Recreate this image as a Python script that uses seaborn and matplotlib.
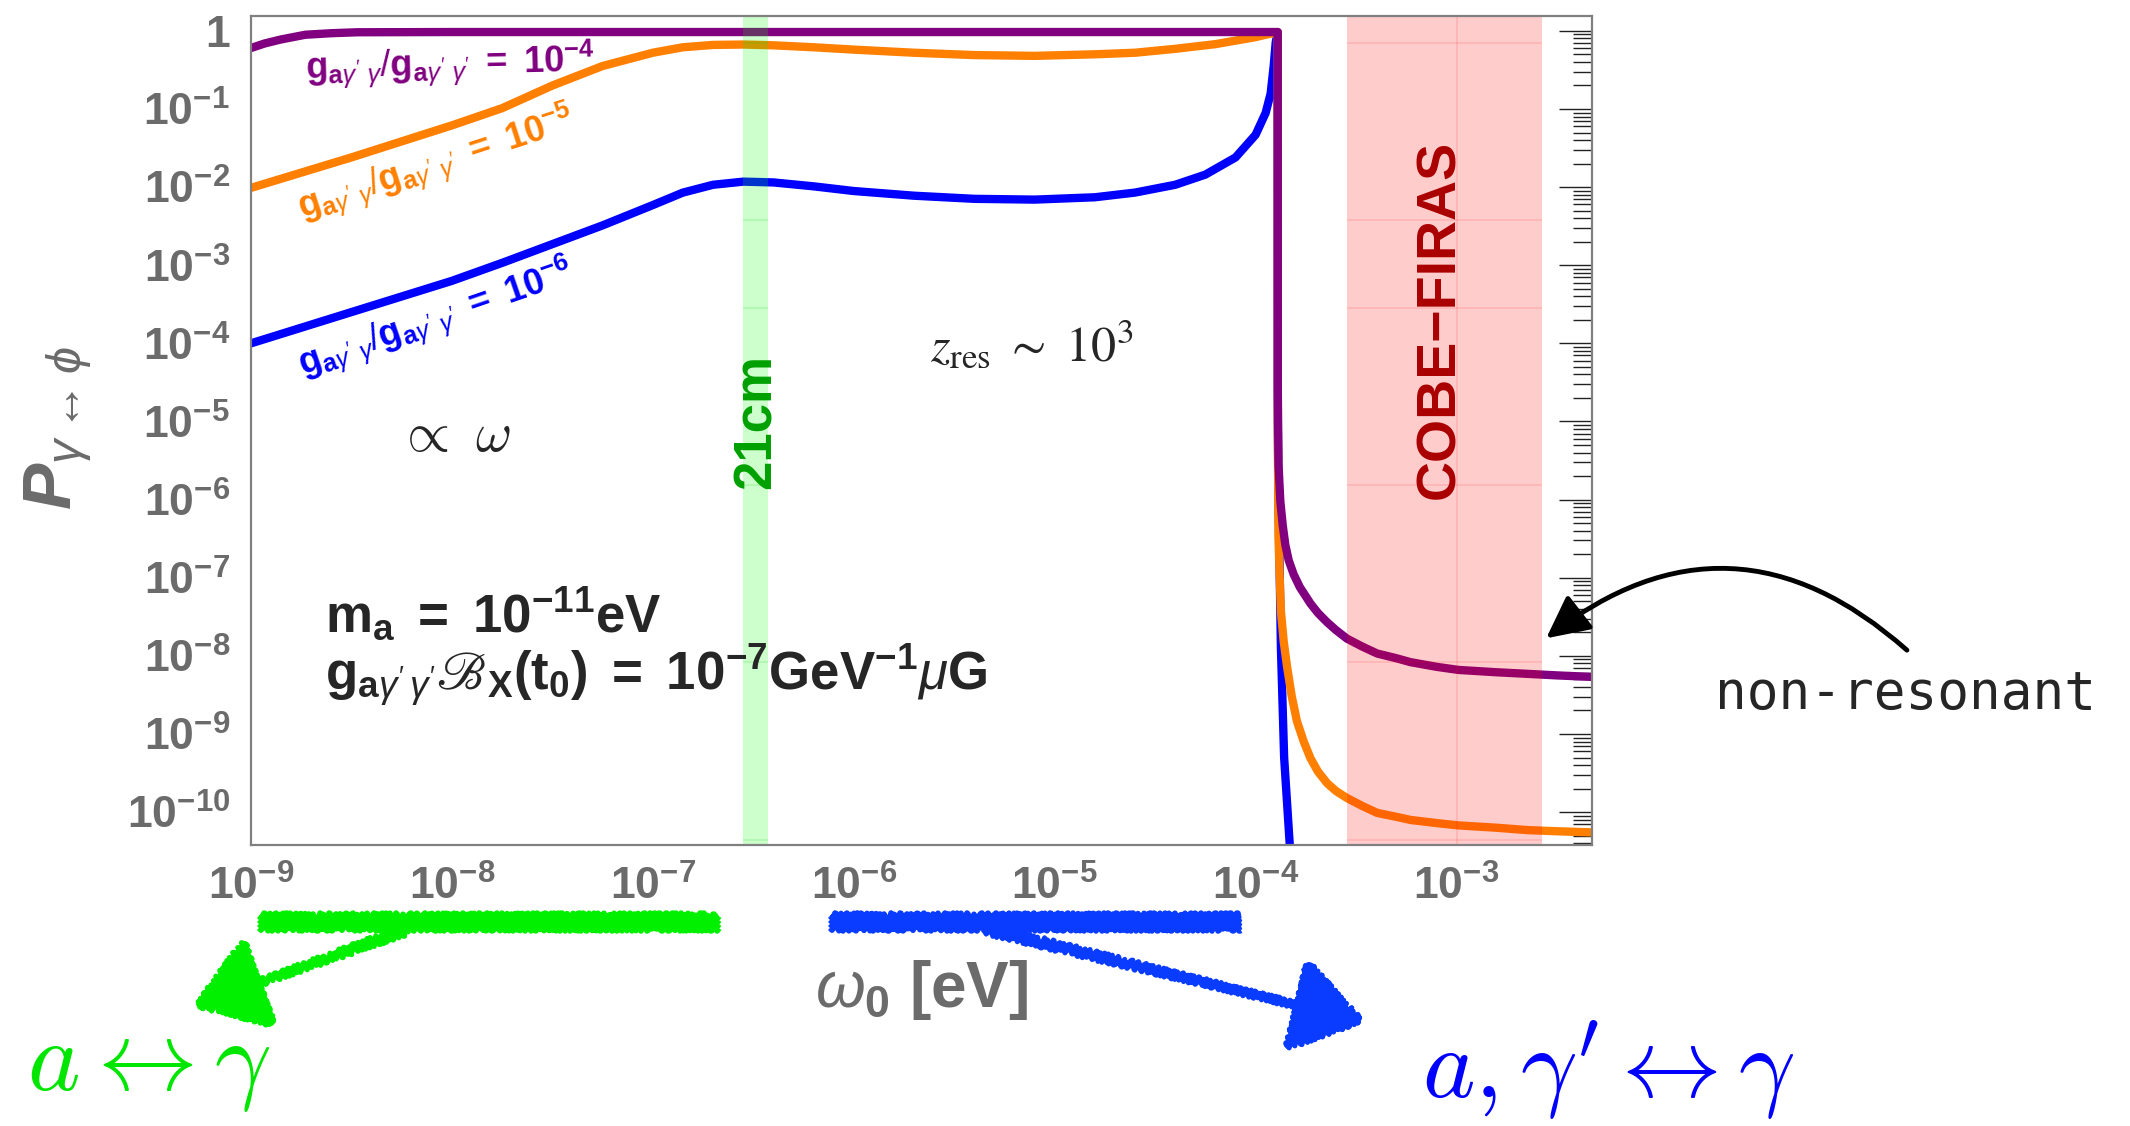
import numpy as np
import pandas as pd
import matplotlib
matplotlib.use("Agg")
import matplotlib.pyplot as plt
import matplotlib.ticker as mticker
from matplotlib.patches import FancyArrowPatch
from matplotlib.lines import Line2D
import seaborn as sns

# ---------- data, stored as log10 values
# x: log10(omega_0 / eV), y: log10(P)
ratios = ["1e-6", "1e-5", "1e-4"]
colors = ["#0000ff", "#ff7f00", "#800080"]

logw_1e4 = [-9.0, -8.93, -8.85, -8.73, -8.6, -8.47, -8.0, -6.0, -4.5, -3.890,
            -3.8895, -3.886, -3.877, -3.865, -3.852, -3.835, -3.81, -3.78, -3.727,
            -3.69, -3.644, -3.6, -3.545, -3.47, -3.395, -3.3, -3.23, -3.1, -2.99,
            -2.8, -2.648, -2.5, -2.32]
logP_1e4 = [-0.22, -0.16, -0.11, -0.05, -0.03, -0.018, -0.015, -0.015, -0.015, -0.015,
            -4.6, -5.55, -6.02, -6.33, -6.58, -6.78, -6.96, -7.12, -7.33,
            -7.45, -7.57, -7.67, -7.78, -7.88, -7.97, -8.03, -8.08, -8.14, -8.18,
            -8.21, -8.23, -8.25, -8.27]

logw_1e5 = [-9.0, -8.5, -8.0, -7.75, -7.5, -7.25, -7.0, -6.85, -6.7, -6.55, -6.4,
            -6.2, -6.0, -5.7, -5.4, -5.1, -4.8, -4.6, -4.4, -4.2, -4.0, -3.95, -3.890,
            -3.8895, -3.886, -3.88, -3.874, -3.86, -3.844, -3.82, -3.794, -3.76,
            -3.727, -3.69, -3.644, -3.6, -3.545, -3.47, -3.395, -3.3, -3.23, -3.1,
            -2.99, -2.8, -2.648, -2.5, -2.32]
logP_1e5 = [-2.01, -1.62, -1.21, -0.99, -0.70, -0.45, -0.28, -0.21, -0.18, -0.175, -0.185,
            -0.21, -0.24, -0.28, -0.31, -0.32, -0.30, -0.28, -0.23, -0.17, -0.08, -0.05, -0.015,
            -5.1, -6.49, -7.0, -7.43, -7.82, -8.13, -8.52, -8.84, -9.1,
            -9.31, -9.48, -9.63, -9.73, -9.82, -9.92, -10.01, -10.06, -10.10, -10.14,
            -10.17, -10.20, -10.23, -10.245, -10.26]

logw_1e6 = [-9.0, -8.5, -8.0, -7.75, -7.5, -7.25, -7.0, -6.85, -6.7, -6.55, -6.4,
            -6.2, -6.0, -5.7, -5.4, -5.1, -4.8, -4.6, -4.4, -4.25, -4.1, -4.0, -3.95,
            -3.925, -3.91, -3.9, -3.890, -3.8895, -3.886, -3.874, -3.858, -3.828]
logP_1e6 = [-4.00, -3.60, -3.20, -2.97, -2.73, -2.49, -2.23, -2.07, -1.97, -1.93, -1.94,
            -1.99, -2.05, -2.11, -2.15, -2.16, -2.13, -2.07, -1.97, -1.84, -1.62, -1.33, -1.05,
            -0.80, -0.45, -0.15, -0.015, -5.0, -6.0, -7.9, -9.3, -10.5]

band_21cm = (2.82e-7, 3.75e-7)
band_firas = (2.84e-4, 2.66e-3)
band_lines_exp = [-0.154, -2.42, -3.55, -5.81, -8.08, -10.36]

xtick_exp = [-9, -8, -7, -6, -5, -4, -3]
ytick_exp = [-10, -9, -8, -7, -6, -5, -4, -3, -2, -1, 0]

# ---------- style
sns.set_style("white")
plt.rcParams.update({
    "font.family": ["Liberation Sans", "DejaVu Sans"],
    "mathtext.fontset": "custom",
    "mathtext.rm": "Liberation Sans",
    "mathtext.it": "Liberation Sans:italic",
    "mathtext.bf": "Liberation Sans:bold",
    "mathtext.bfit": "Liberation Sans:italic:bold",
    "mathtext.sf": "Liberation Sans",
    "mathtext.fallback": "stix",
})

W, H = 2130, 1126


def px(x, y):
    # pixel position (from top-left) -> figure fraction
    return (x / W, 1 - y / H)


frames = []
for r, lw_, lp_ in [("1e-6", logw_1e6, logP_1e6),
                    ("1e-5", logw_1e5, logP_1e5),
                    ("1e-4", logw_1e4, logP_1e4)]:
    frames.append(pd.DataFrame({"omega": 10.0 ** np.array(lw_),
                                "P": 10.0 ** np.array(lp_), "ratio": r}))
df = pd.concat(frames, ignore_index=True)

fig = plt.figure(figsize=(W / 100, H / 100), dpi=100)
ax = fig.add_axes([0.1178, 0.2496, 0.6296, 0.7362])
ax.set_xscale("log")
ax.set_yscale("log")

sns.lineplot(data=df, x="omega", y="P", hue="ratio", hue_order=ratios,
             palette=colors, estimator=None, sort=False, linewidth=6,
             legend=False, ax=ax, zorder=2)

# shaded bands (drawn over the curves)
ax.axvspan(*band_21cm, color="#00ff00", alpha=0.2, lw=0, zorder=3)
ax.axvspan(*band_firas, color="#ff0000", alpha=0.2, lw=0, zorder=3)
for e in band_lines_exp:
    ax.hlines(10.0 ** e, *band_21cm, color="#00cc00", alpha=0.15, lw=1.2, zorder=3)
    ax.hlines(10.0 ** e, *band_firas, color="#ff0000", alpha=0.12, lw=1.2, zorder=3)
ax.vlines(1e-3, 3.8e-11, 1.55, color="#ff0000", alpha=0.12, lw=1.2, zorder=3)

ax.set_xlim(1e-9, 4.72e-3)
ax.set_ylim(3.8e-11, 1.55)

# ---------- axes / ticks
gray = "#6b6b6b"
for s in ax.spines.values():
    s.set_color("#808080")
    s.set_linewidth(1.6)
    s.set_zorder(5)

ax.xaxis.set_major_locator(mticker.FixedLocator([10.0 ** e for e in xtick_exp]))
ax.yaxis.set_major_locator(mticker.FixedLocator([10.0 ** e for e in ytick_exp]))
ax.xaxis.set_minor_locator(mticker.LogLocator(base=10, subs=np.arange(2, 10), numticks=30))
ax.yaxis.set_minor_locator(mticker.LogLocator(base=10, subs=np.arange(2, 10), numticks=30))
ax.xaxis.set_minor_formatter(mticker.NullFormatter())
ax.yaxis.set_minor_formatter(mticker.NullFormatter())


def fmt(v, _):
    e = int(round(np.log10(v)))
    if e == 0:
        return r"$\mathbf{1}$"
    return r"$\mathbf{10^{%d}}$" % e


ax.xaxis.set_major_formatter(mticker.FuncFormatter(fmt))
ax.yaxis.set_major_formatter(mticker.FuncFormatter(fmt))
ax.tick_params(which="both", direction="in", top=False, right=True,
               labelright=False, color="#222222", width=1.0)
ax.tick_params(which="major", length=24, labelsize=32, labelcolor=gray)
ax.tick_params(which="minor", length=14)
ax.tick_params(axis="x", which="major", pad=15)
ax.tick_params(axis="y", which="major", pad=15)
ax.set_xlabel("")
ax.set_ylabel("")

fig.text(*px(58, 428), r"$\mathbfit{P}_{\gamma\leftrightarrow\phi}$", rotation=90,
         fontsize=50, color=gray, ha="center", va="center")
fig.text(*px(922, 990), r"$\omega_\mathbf{0}\ \mathbf{[eV]}$", fontsize=46,
         color=gray, ha="center", va="center")

# ---------- curve labels
lab_tmpl = r"$\mathbf{g}_{\mathbf{a}\gamma'\ \gamma}/\mathbf{g}_{\mathbf{a}\gamma'\ \gamma'}\ \mathbf{=\ 10^{%s}}$"
ax.text(9.8e-9, 0.37, lab_tmpl % "-4", color=colors[2], fontsize=26,
        rotation=1.5, ha="center", va="center", rotation_mode="anchor")
ax.text(8.3e-9, 0.02, lab_tmpl % "-5", color=colors[1], fontsize=26,
        rotation=18, ha="center", va="center", rotation_mode="anchor")
ax.text(8.3e-9, 2.1e-4, lab_tmpl % "-6", color=colors[0], fontsize=26,
        rotation=19, ha="center", va="center", rotation_mode="anchor")

# ---------- in-plot annotations
ax.text(3.3e-7, 1.0e-5, "21cm", color="#00a000", fontsize=38, fontweight="bold",
        rotation=90, ha="center", va="center", zorder=4)
ax.text(8.3e-4, 2.0e-4, "COBE\u2212FIRAS", color="#aa0000", fontsize=40,
        fontweight="bold", rotation=90, ha="center", va="center", zorder=4)
ax.text(7.7e-6, 9.3e-5, r"$z_{\rm res}\ \sim\ 10^3$", fontsize=36,
        math_fontfamily="stix", ha="center", va="center")
ax.text(1.03e-8, 6.3e-6, r"$\propto\ \omega$", fontsize=40,
        math_fontfamily="cm", ha="center", va="center")
ax.text(2.35e-9, 3.4e-8, r"$\mathbf{m_a\ =\ 10^{-11}eV}$", fontsize=38,
        ha="left", va="center")
ax.text(2.35e-9, 5.6e-9,
        r"$\mathbf{g}_{\mathbf{a}\gamma'\,\gamma'}ℬ_\mathbf{X}\mathbf{(t_0)\ =\ 10^{-7}GeV^{-1}}\mu\mathbf{G}$",
        fontsize=38, ha="left", va="center")

# ---------- outside annotations
fig.text(*px(1906, 695), "non-resonant", family="DejaVu Sans Mono",
         fontsize=38, ha="center", va="center")
fig.add_artist(FancyArrowPatch(px(1909, 652), px(1544, 640),
                               transform=fig.transFigure,
                               connectionstyle="arc3,rad=0.42",
                               arrowstyle="-|>,head_length=1.3,head_width=0.65",
                               mutation_scale=20, lw=3.5, color="black"))

green = "#00f000"
blue = "#0a3cff"
# scribbled bars: a few jittered strokes
for (x0, x1), c in [((259, 719), green), ((830, 1241), blue)]:
    for dy in (-6, -2, 2, 6):
        ln = Line2D([x0 / W, x1 / W], [1 - (922 + dy) / H] * 2,
                    transform=fig.transFigure, lw=4, color=c,
                    solid_capstyle="butt")
        ln.set_sketch_params(3, 6, 3)
        fig.add_artist(ln)

for start, end, c in [((411, 928), (192, 1007), green),
                      ((982, 928), (1366, 1022), blue)]:
    for d in (-3, 0, 3):
        ar = FancyArrowPatch(px(start[0], start[1] + d), px(*end),
                             transform=fig.transFigure,
                             arrowstyle="-|>,head_length=0.9,head_width=0.6",
                             mutation_scale=50, lw=3.5, color=c)
        ar.set_sketch_params(3, 6, 3)
        fig.add_artist(ar)

fig.text(*px(149, 1090), r"$a\leftrightarrow\gamma$", math_fontfamily="cm",
         fontsize=72, color="#00e600", ha="center", va="baseline")
fig.text(*px(1608, 1098), r"$a,\gamma'\leftrightarrow\gamma$", math_fontfamily="cm",
         fontsize=72, color="#0000ff", ha="center", va="baseline")

fig.savefig("out.png", dpi=100)
